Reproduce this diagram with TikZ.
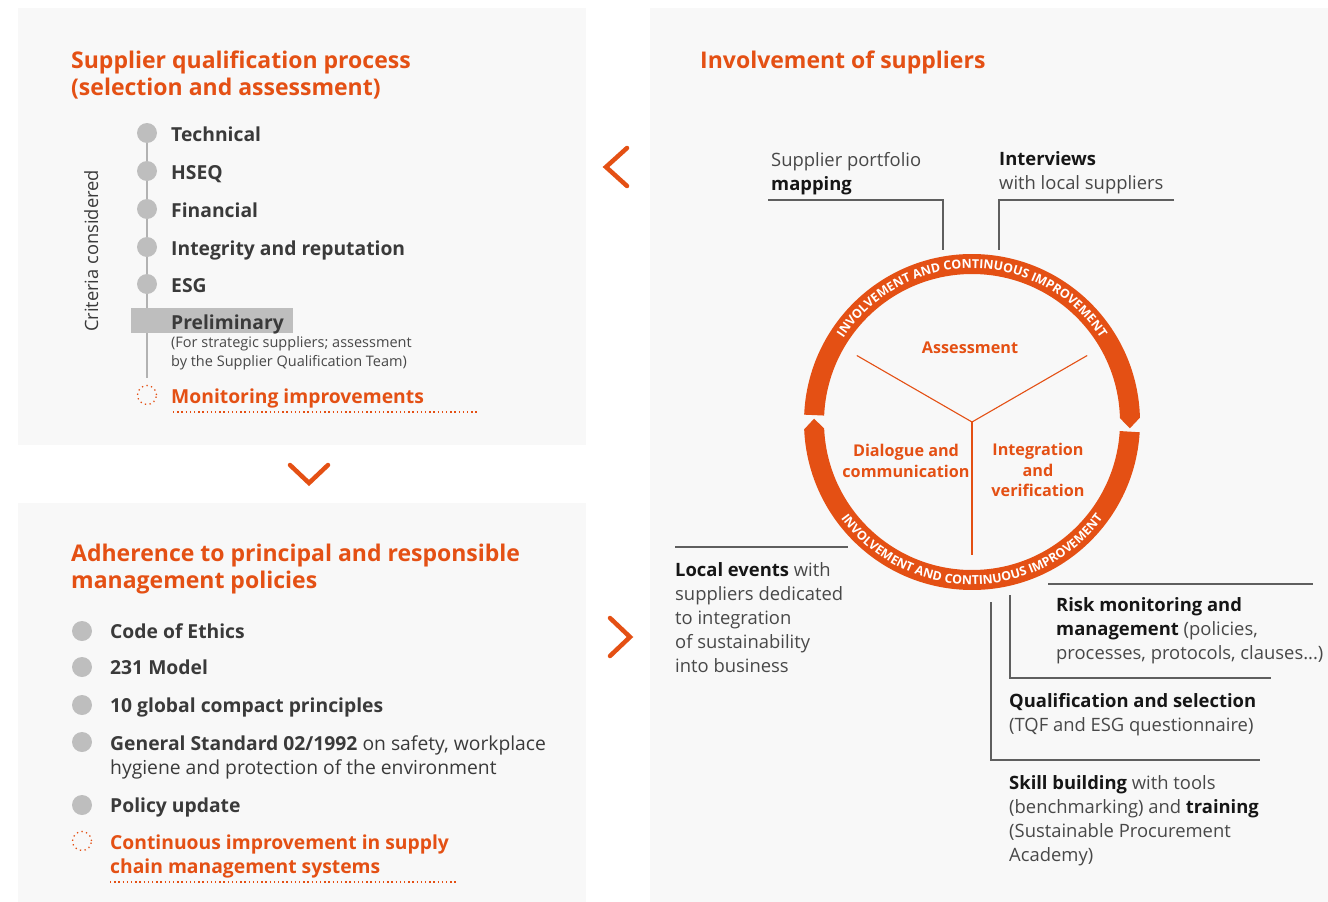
\documentclass[tikz,border=0pt]{standalone}
\usepackage{fontspec}
\setmainfont{Open Sans}
\usetikzlibrary{decorations.text}
\definecolor{eniorange}{RGB}{228,80,20}
\definecolor{panelgray}{RGB}{248,248,248}
\definecolor{dotgray}{RGB}{190,190,190}
\definecolor{spinegray}{RGB}{178,178,178}
\definecolor{textgray}{RGB}{58,58,58}
\definecolor{notegray}{RGB}{72,72,72}
\definecolor{inkblack}{RGB}{22,22,22}
\definecolor{leadgray}{RGB}{95,95,95}
\newcommand{\ringfont}{\fontsize{12.4}{13}\selectfont\bfseries}
\newcommand{\notebf}[1]{\textcolor{inkblack}{\textbf{#1}}}
\tikzset{%
  panel/.style    = {fill=panelgray},%
  heading/.style  = {anchor=base west, align=left, inner sep=0pt, text=eniorange,%
                     font=\fontsize{23}{27}\selectfont\bfseries},%
  crit/.style     = {anchor=base west, align=left, inner sep=0pt, text=textgray,%
                     font=\fontsize{19.3}{24}\selectfont\bfseries},%
  critmix/.style  = {crit, font=\fontsize{19.3}{24}\selectfont},%
  critnote/.style = {anchor=base west, align=left, inner sep=0pt, text=notegray,%
                     font=\fontsize{14.5}{19}\selectfont},%
  better/.style   = {crit, text=eniorange},%
  critdot/.style  = {circle, fill=dotgray, inner sep=0pt, minimum size=20pt},%
  opendot/.style  = {circle, draw=eniorange, line width=1.3pt,%
                     dash pattern=on 1.3pt off 3.4pt, inner sep=0pt, minimum size=19pt},%
  dotline/.style  = {draw=eniorange, line width=1.4pt, dash pattern=on 1.4pt off 2.8pt},%
  spine/.style    = {draw=spinegray, line width=2pt},%
  chev/.style     = {draw=eniorange, line width=4.5pt, line cap=round, line join=miter},%
  note/.style     = {anchor=base west, align=left, inner sep=0pt, text=notegray,%
                     font=\fontsize{18.4}{24}\selectfont},%
  leader/.style   = {draw=leadgray, line width=1.1pt},%
  phase/.style    = {align=center, inner sep=0pt, text=eniorange,%
                     font=\fontsize{16.2}{20.5}\selectfont\bfseries},%
  spoke/.style    = {draw=eniorange, line width=1.1pt}%
}
\begin{document}
\begin{tikzpicture}[x=1pt,y=1pt]
\fill[white] (0,0) rectangle (1328,-902);
\useasboundingbox (0,0) rectangle (1328,-902);
% panels
\fill[panel] (18,-8) rectangle (586,-445);
\fill[panel] (18,-503) rectangle (586,-902);
\fill[panel] (650,-8) rectangle (1328,-902);

% supplier qualification process (multi-line nodes sit on their last baseline)
\node[heading] (qualtitle) at (71,-95) {Supplier qualification process\\(selection and assessment)};
\coordinate (spinetop) at (147,-133);
\coordinate (spinebot) at (147,-378);
\draw[spine] (spinetop) -- (spinebot);
\foreach \name/\y/\txt in {tech/133/Technical, hseq/171/HSEQ, fin/209/Financial,
                           integ/247/Integrity and reputation, esg/284/ESG}{
  \node[critdot] (\name) at (147,-\y) {};
  \node[crit] (\name label) at (171,-\y-8) {\txt};
}
\node[fill=dotgray, minimum width=162pt, minimum height=25pt, inner sep=0pt] (prelimbar) at (212,-320.5) {};
\node[crit] (prelim) at (171,-329) {Preliminary};
\node[critnote] (prelimnote) at (171,-366) {(For strategic suppliers; assessment\\by the Supplier Qualification Team)};
\node[opendot] (mondot) at (147,-395) {};
\node[better] (mon) at (171,-403) {Monitoring improvements};
\coordinate (monA) at (173,-412);
\coordinate (monB) at (477,-412);
\draw[dotline] (monA) -- (monB);
\node[rotate=90, anchor=base, inner sep=0pt, text=textgray, font=\fontsize{18.3}{22}\selectfont] (criteria) at (98,-251) {Criteria considered};

% arrows between panels
\draw[chev] (290,-465) -- (309,-483) -- (328,-465);
\draw[chev] (627,-148) -- (606,-167) -- (627,-186);
\draw[chev] (610,-618) -- (630,-637) -- (610,-656);

% principal and responsible management policies
\node[heading] (poltitle) at (71,-588) {Adherence to principal and responsible\\management policies};
\foreach \name/\y/\txt in {ethics/631/Code of Ethics, model/667/231 Model,
                           compact/705/10 global compact principles, update/805/Policy update}{
  \node[critdot] (\name) at (82,-\y) {};
  \node[crit] (\name label) at (110,-\y-7) {\txt};
}
\node[critdot] (standard) at (82,-742) {};
\node[critmix] (standardlabel) at (110,-774) {\textbf{General Standard 02/1992} on safety, workplace\\hygiene and protection of the environment};
\node[opendot] (contdot) at (82,-841) {};
\node[better] (cont) at (110,-873) {Continuous improvement in supply\\chain management systems};
\coordinate (contA) at (110,-882);
\coordinate (contB) at (458,-882);
\draw[dotline] (contA) -- (contB);

% involvement of suppliers
\node[heading] (invtitle) at (700,-68) {Involvement of suppliers};
\coordinate (hub) at (972,-422);
\fill[eniorange] ([shift={(177.5:168)}]hub) arc[start angle=177.5, end angle=1.5, radius=168]
  -- ([shift={(-2.3:158)}]hub) -- ([shift={(1.5:148)}]hub)
  arc[start angle=1.5, end angle=177.5, radius=148] -- cycle;
\fill[eniorange] ([shift={(-3.5:168)}]hub) arc[start angle=-3.5, end angle=-177.5, radius=168]
  -- ([shift={(-181.2:158)}]hub) -- ([shift={(-177.5:148)}]hub)
  arc[start angle=-177.5, end angle=-3.5, radius=148] -- cycle;
\path[decorate, decoration={text along path, text align=center, text color=white,
  text={|\ringfont|INVOLVEMENT AND CONTINUOUS IMPROVEMENT}}]
  ([shift={(155:153.5)}]hub) arc[start angle=155, end angle=25, radius=153.5];
\path[decorate, decoration={text along path, text align=center, text color=white,
  text={|\ringfont|INVOLVEMENT AND CONTINUOUS IMPROVEMENT}}]
  ([shift={(207:162.5)}]hub) arc[start angle=207, end angle=333, radius=162.5];
\foreach \a/\name in {150/spokeL, 30/spokeR, 270/spokeD}{
  \coordinate (\name) at ([shift={(\a:133)}]hub);
  \draw[spoke] (hub) -- (\name);
}
\node[phase] (assess) at ([shift={(-2,74)}]hub) {Assessment};
\node[phase] (dialogue) at ([shift={(-66,-39)}]hub) {Dialogue and\\communication};
\node[phase] (integr) at ([shift={(66,-48)}]hub) {Integration\\and\\verification};

% notes round the cycle
\node[note] (mapping) at (771,-190) {Supplier portfolio\\\notebf{mapping}};
\coordinate (mapA) at (768,-200);
\coordinate (mapB) at (943,-250);
\draw[leader] (mapA) -- (mapA -| mapB) -- (mapB);
\node[note] (interviews) at (999,-189) {\notebf{Interviews}\\with local suppliers};
\coordinate (intA) at (1174,-200);
\coordinate (intB) at (999,-250);
\draw[leader] (intA) -- (intA -| intB) -- (intB);
\node[note] (events) at (675,-672) {\notebf{Local events} with\\suppliers dedicated\\to integration\\of sustainability\\into business};
\coordinate (evA) at (675,-547);
\coordinate (evB) at (848,-547);
\draw[leader] (evA) -- (evB);
\node[note] (risk) at (1056,-659) {\notebf{Risk monitoring and}\\\notebf{management} (policies,\\processes, protocols, clauses...)};
\coordinate (riskA) at (1048,-584);
\coordinate (riskB) at (1313,-584);
\draw[leader] (riskA) -- (riskB);
\coordinate (riskC) at (1010,-595);
\coordinate (riskD) at (1271,-678);
\draw[leader] (riskC) -- (riskC |- riskD) -- (riskD);
\node[note] (qualif) at (1009,-731) {\notebf{Qualification and selection}\\(TQF and ESG questionnaire)};
\coordinate (qualC) at (991,-602);
\coordinate (qualD) at (1260,-760);
\draw[leader] (qualC) -- (qualC |- qualD) -- (qualD);
\node[note] (skill) at (1009,-861) {\notebf{Skill building} with tools\\(benchmarking) and \notebf{training}\\(Sustainable Procurement\\Academy)};
\end{tikzpicture}
\end{document}
